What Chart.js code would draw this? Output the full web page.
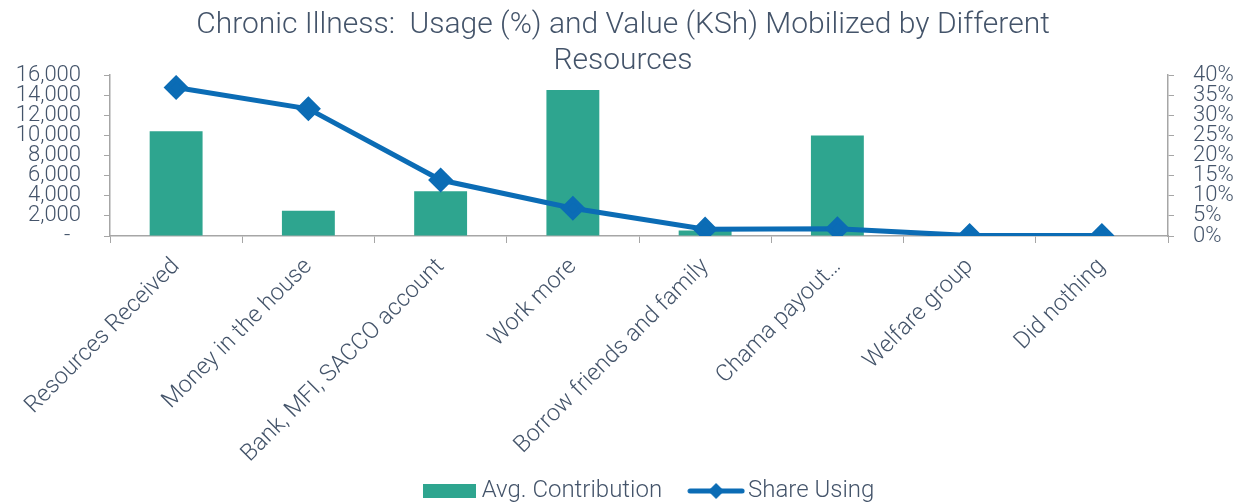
<!DOCTYPE html>
<html>
<head>
<meta charset="utf-8">
<script src="https://cdn.jsdelivr.net/npm/chart.js@4.4.1/dist/chart.umd.min.js"></script>
<style>
  html, body { margin: 0; padding: 0; background: #fff; }
  #wrap { width: 1246px; height: 504px; }
</style>
</head>
<body>
<div id="wrap"><canvas id="myChart" width="1246" height="504"></canvas></div>
<script>
const categories = [
  "Resources Received",
  "Money in the house",
  "Bank, MFI, SACCO account",
  "Work more",
  "Borrow friends and family",
  "Chama payout…",
  "Welfare group",
  "Did nothing",
];
const avgContribution = [10400, 2500, 4450, 14500, 550, 10000, 0, 0];
const shareUsing = [36.9, 31.6, 13.9, 6.9, 1.7, 1.8, 0.1, 0.1];
const leftTicks = [0, 2000, 4000, 6000, 8000, 10000, 12000, 14000, 16000];
const rightTicks = [0, 5, 10, 15, 20, 25, 30, 35, 40];

const textColor = "#44546a";
const axisColor = "#a6a6a6";
const barColor = "#2ea58f";
const lineColor = "#0b6cb5";
const fontFamily = "Roboto, 'Liberation Sans', sans-serif";

// legend swatches drawn on small canvases
function makeBarSwatch() {
  const c = document.createElement("canvas");
  c.width = 53;
  c.height = 14;
  const g = c.getContext("2d");
  g.fillStyle = barColor;
  g.fillRect(0, 0, 53, 14);
  return c;
}

function makeLineSwatch() {
  const c = document.createElement("canvas");
  c.width = 58;
  c.height = 20;
  const g = c.getContext("2d");
  g.strokeStyle = lineColor;
  g.lineWidth = 5;
  g.lineCap = "round";
  g.beginPath();
  g.moveTo(3, 10);
  g.lineTo(55, 10);
  g.stroke();
  g.fillStyle = lineColor;
  g.beginPath();
  g.moveTo(29, 2);
  g.lineTo(37, 10);
  g.lineTo(29, 18);
  g.lineTo(21, 10);
  g.closePath();
  g.fill();
  return c;
}

const barSwatch = makeBarSwatch();
const lineSwatch = makeLineSwatch();

const ctx = document.getElementById("myChart").getContext("2d");
const myChart = new Chart(ctx, {
  type: "bar",
  data: {
    labels: categories,
    datasets: [
      {
        type: "bar",
        label: "Avg. Contribution",
        data: avgContribution,
        backgroundColor: barColor,
        yAxisID: "y",
        order: 2,
        barPercentage: 0.4,
        categoryPercentage: 1,
      },
      {
        type: "line",
        label: "Share Using",
        data: shareUsing,
        borderColor: lineColor,
        backgroundColor: lineColor,
        borderWidth: 5,
        pointStyle: "rectRot",
        pointRadius: 9,
        pointHoverRadius: 9,
        tension: 0,
        yAxisID: "y1",
        order: 1,
      },
    ],
  },
  options: {
    responsive: false,
    animation: false,
    plugins: {
      title: {
        display: true,
        text: [
          "Chronic Illness:  Usage (%) and Value (KSh) Mobilized by Different",
          "Resources",
        ],
        color: textColor,
        font: { family: fontFamily, size: 30, weight: "300", lineHeight: 1.2 },
        padding: { top: 7, bottom: -4 },
      },
      legend: {
        position: "bottom",
        labels: {
          color: textColor,
          font: { family: fontFamily, size: 24, weight: "300" },
          usePointStyle: true,
          pointStyleWidth: 40,
          padding: 34,
          sort: (a, b) => a.datasetIndex - b.datasetIndex,
          generateLabels: function (chart) {
            const items = Chart.defaults.plugins.legend.labels.generateLabels(chart);
            items.forEach((item) => {
              item.pointStyle = item.datasetIndex === 0 ? barSwatch : lineSwatch;
            });
            return items;
          },
        },
      },
      tooltip: { enabled: false },
    },
    scales: {
      x: {
        grid: {
          offset: true,
          drawOnChartArea: false,
          color: axisColor,
          tickLength: 7,
        },
        border: { color: axisColor, width: 1.5 },
        ticks: {
          color: textColor,
          font: { family: fontFamily, size: 23.5, weight: "300" },
          minRotation: 45,
          maxRotation: 45,
          autoSkip: false,
          padding: 10,
        },
        afterFit: (scale) => {
          scale.height = 226;
        },
      },
      y: {
        position: "left",
        min: 0,
        max: 16000,
        afterBuildTicks: (scale) => {
          scale.ticks = leftTicks.map((v) => ({ value: v }));
        },
        grid: { drawOnChartArea: false, color: axisColor, tickLength: 6 },
        border: { color: axisColor, width: 1.5 },
        ticks: {
          color: textColor,
          font: { family: fontFamily, size: 22, weight: "300", lineHeight: 1 },
          autoSkip: false,
          padding: 23,
          callback: (v) => (v === 0 ? "-  " : v.toLocaleString("en-US")),
        },
        afterFit: (scale) => {
          scale.width = 110;
        },
      },
      y1: {
        position: "right",
        min: 0,
        max: 40,
        afterBuildTicks: (scale) => {
          scale.ticks = rightTicks.map((v) => ({ value: v }));
        },
        grid: { drawOnChartArea: false, color: axisColor, tickLength: 6 },
        border: { color: axisColor, width: 1.5 },
        ticks: {
          color: textColor,
          font: { family: fontFamily, size: 22, weight: "300", lineHeight: 1 },
          autoSkip: false,
          padding: 19,
          callback: (v) => v + "%",
        },
        afterFit: (scale) => {
          scale.width = 78;
        },
      },
    },
  },
});

// legend: fixed box height, then nudge the row to where the original has it
const legend = myChart.legend;
const fitLegend = legend.fit.bind(legend);
legend.fit = function () {
  fitLegend();
  this.height = 42;
};
const drawLegendItems = legend._draw.bind(legend);
legend._draw = function () {
  this.ctx.save();
  this.ctx.translate(29, -17);
  drawLegendItems();
  this.ctx.restore();
};
myChart.update();
</script>
</body>
</html>
